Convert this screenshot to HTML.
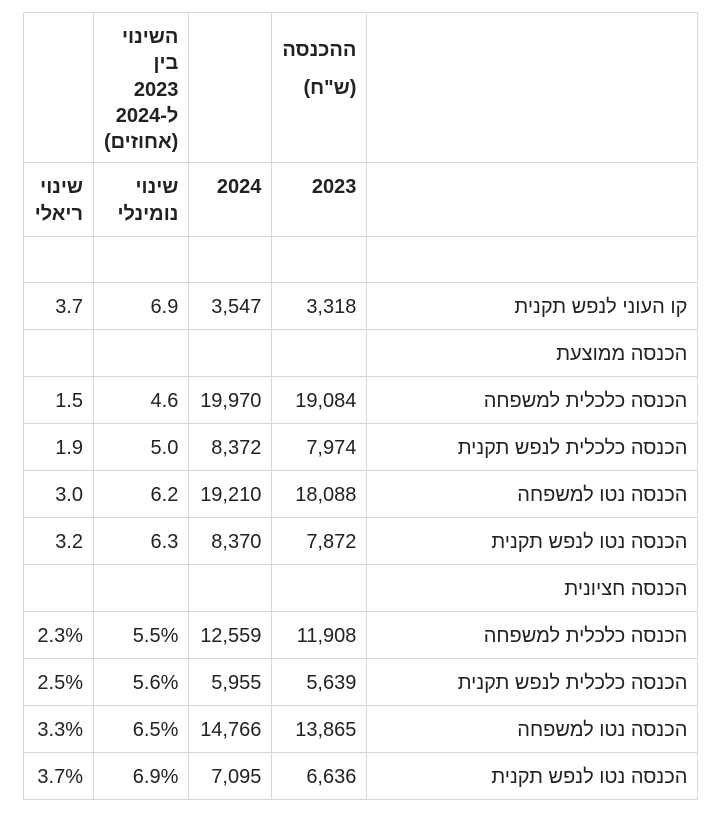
<!DOCTYPE html>
<html><head><meta charset="utf-8"><style>
body{margin:0;background:#fff;width:709px;height:819px;overflow:hidden;font-family:"Liberation Sans","Noto Sans CJK SC",sans-serif;color:#222;}
table{position:absolute;left:23px;top:12px;border-collapse:collapse;table-layout:fixed;direction:ltr}
td{border:1px solid #d3d9de;padding:2px 10px 0 10px;text-align:right;vertical-align:middle;font-size:20px;direction:rtl;box-sizing:border-box;white-space:nowrap}
th{border:1px solid #d3d9de;padding:0 10px;text-align:right;font-size:20px;font-weight:bold;direction:rtl;box-sizing:border-box}
tr.r td{height:47px}
</style></head><body>
<table>
<colgroup><col style="width:70px"><col style="width:95px"><col style="width:83px"><col style="width:95px"><col style="width:331px"></colgroup>
<tr style="height:150px">
<th></th>
<th style="vertical-align:top;padding-top:11px;line-height:26.3px">השינוי<br>בין<br>2023<br>ל-2024<br>(אחוזים)</th>
<th></th>
<th style="vertical-align:top;padding-top:18px;line-height:38px">ההכנסה<br>(ש"ח)</th>
<th></th>
</tr>
<tr style="height:74px">
<th style="line-height:27px;padding-top:2px">שינוי<br>ריאלי</th>
<th style="line-height:27px;padding-top:2px">שינוי<br>נומינלי</th>
<th style="vertical-align:top;padding-top:13px">2024</th>
<th style="vertical-align:top;padding-top:13px">2023</th>
<th></th>
</tr>
<tr style="height:46px"><td></td><td></td><td></td><td></td><td></td></tr>
<tr class="r"><td>3.7</td><td>6.9</td><td>3,547</td><td>3,318</td><td>קו העוני לנפש תקנית</td></tr>
<tr class="r"><td></td><td></td><td></td><td></td><td>הכנסה ממוצעת</td></tr>
<tr class="r"><td>1.5</td><td>4.6</td><td>19,970</td><td>19,084</td><td>הכנסה כלכלית למשפחה</td></tr>
<tr class="r"><td>1.9</td><td>5.0</td><td>8,372</td><td>7,974</td><td>הכנסה כלכלית לנפש תקנית</td></tr>
<tr class="r"><td>3.0</td><td>6.2</td><td>19,210</td><td>18,088</td><td>הכנסה נטו למשפחה</td></tr>
<tr class="r"><td>3.2</td><td>6.3</td><td>8,370</td><td>7,872</td><td>הכנסה נטו לנפש תקנית</td></tr>
<tr class="r"><td></td><td></td><td></td><td></td><td>הכנסה חציונית</td></tr>
<tr class="r"><td>2.3%</td><td>5.5%</td><td>12,559</td><td>11,908</td><td>הכנסה כלכלית למשפחה</td></tr>
<tr class="r"><td>2.5%</td><td>5.6%</td><td>5,955</td><td>5,639</td><td>הכנסה כלכלית לנפש תקנית</td></tr>
<tr class="r"><td>3.3%</td><td>6.5%</td><td>14,766</td><td>13,865</td><td>הכנסה נטו למשפחה</td></tr>
<tr class="r"><td>3.7%</td><td>6.9%</td><td>7,095</td><td>6,636</td><td>הכנסה נטו לנפש תקנית</td></tr>
</table>
</body></html>
